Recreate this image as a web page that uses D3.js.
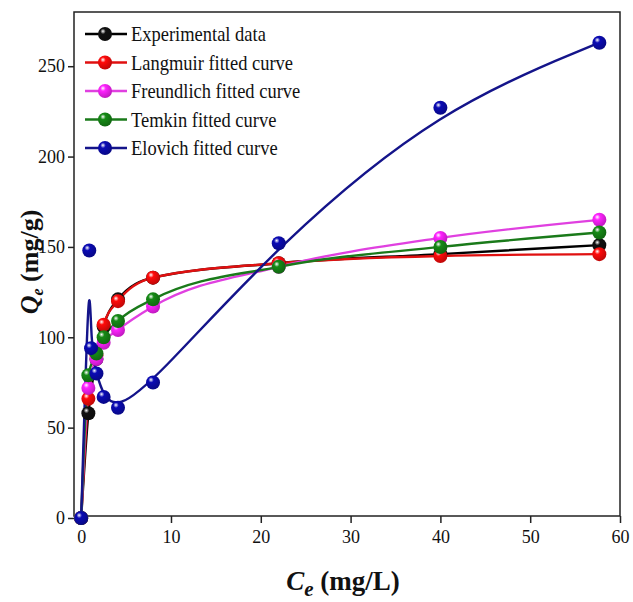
<!DOCTYPE html>
<html lang="en">
<head>
<meta charset="UTF-8">
<title>Isotherm fits</title>
<script src="https://d3js.org/d3.v7.min.js"></script>
<style>
  body { margin: 0; background: #fff; }
  text { font-family: "Liberation Serif", "DejaVu Serif", serif; }
</style>
</head>
<body>
<div id="chart"></div>
<script>
// data
const ceMain = [0, 0.8, 1.7, 2.5, 4.1, 8, 22, 40, 57.7];
const qExperimental = [0, 58, 88, 106, 121, 133, 141, 146, 151];
const qLangmuir = [0, 66, 90, 107, 120, 133, 141, 145, 146];
const qFreundlich = [0, 72, 88, 97, 104, 117, 139, 155, 165];
const qTemkin = [0, 79, 91, 100, 109, 121, 139, 150, 158];
const ceElovich = [0, 0.9, 1.1, 1.7, 2.5, 4.1, 8, 22, 40, 57.7];
const qElovich = [0, 148, 94, 80, 67, 61, 75, 152, 227, 263];
const xTicks = [0, 10, 20, 30, 40, 50, 60];
const yTicks = [0, 50, 100, 150, 200, 250];

const series = [
  { name: 'Experimental data', x: ceMain, y: qExperimental, line: '#000000', mark: '#111111', curve: d3.curveMonotoneX },
  { name: 'Langmuir fitted curve', x: ceMain, y: qLangmuir, line: '#e01010', mark: '#ff0a0a', curve: d3.curveMonotoneX },
  { name: 'Freundlich fitted curve', x: ceMain, y: qFreundlich, line: '#e040e0', mark: '#ff22ff', curve: d3.curveMonotoneX },
  { name: 'Temkin fitted curve', x: ceMain, y: qTemkin, line: '#1a7a1a', mark: '#168a16', curve: d3.curveMonotoneX },
  { name: 'Elovich fitted curve', x: ceElovich, y: qElovich, line: '#14148a', mark: '#0a0ab4', curve: d3.curveBasis }
];

const width = 633, height = 602;
const plotLeft = 74, plotRight = 620, plotTop = 12, plotBottom = 516;

const svg = d3.select('#chart').append('svg')
  .attr('width', width).attr('height', height);

const x = d3.scaleLinear().domain([-0.8, 60]).range([plotLeft, plotRight]);
const y = d3.scaleLinear().domain([0, 280]).range([518, plotTop]);

// sphere-looking markers
const defs = svg.append('defs');
series.forEach((s, i) => {
  const g = defs.append('radialGradient').attr('id', 'ball' + i)
    .attr('cx', '0.38').attr('cy', '0.35').attr('r', '0.65')
    .attr('fx', '0.35').attr('fy', '0.3');
  g.append('stop').attr('offset', '0').attr('stop-color', '#ffffff');
  g.append('stop').attr('offset', '0.3').attr('stop-color', s.mark);
  g.append('stop').attr('offset', '1').attr('stop-color', d3.color(s.mark).darker(0.8));
});

// axes
svg.append('g')
  .attr('transform', `translate(0,${plotBottom})`)
  .call(d3.axisBottom(x).tickValues(xTicks).tickSize(7).tickPadding(7))
  .call(g => g.select('.domain').remove())
  .selectAll('text').style('font-size', '18px').attr('fill', '#111');

svg.append('g')
  .attr('transform', `translate(${plotLeft},0)`)
  .call(d3.axisLeft(y).tickValues(yTicks).tickSize(6).tickPadding(3))
  .call(g => g.select('.domain').remove())
  .selectAll('text').style('font-size', '18px').attr('fill', '#111');

svg.selectAll('.tick line').attr('stroke', '#222').attr('stroke-width', 1.5);

svg.append('rect')
  .attr('x', plotLeft).attr('y', plotTop)
  .attr('width', plotRight - plotLeft).attr('height', plotBottom - plotTop)
  .attr('fill', 'none').attr('stroke', '#222').attr('stroke-width', 1.5);

// curves + points
const plot = svg.append('g');
series.forEach((s, i) => {
  const pts = s.x.map((v, k) => [v, s.y[k]]);
  plot.append('path')
    .datum(pts)
    .attr('fill', 'none')
    .attr('stroke', s.line)
    .attr('stroke-width', 2.4)
    .attr('d', d3.line().x(d => x(d[0])).y(d => y(d[1])).curve(s.curve));
});
series.forEach((s, i) => {
  const pts = s.x.map((v, k) => [v, s.y[k]]);
  plot.selectAll(null)
    .data(pts)
    .enter().append('circle')
    .attr('cx', d => x(d[0]))
    .attr('cy', d => y(d[1]))
    .attr('r', 7)
    .attr('fill', `url(#ball${i})`);
});

// legend
const legend = svg.append('g');
series.forEach((s, i) => {
  const ly = 34 + i * 28.5;
  legend.append('line')
    .attr('x1', 85).attr('x2', 127).attr('y1', ly).attr('y2', ly)
    .attr('stroke', s.line).attr('stroke-width', 2.4);
  legend.append('circle')
    .attr('cx', 105).attr('cy', ly).attr('r', 7)
    .attr('fill', `url(#ball${i})`);
  legend.append('text')
    .attr('transform', `translate(131,${ly + 7}) scale(0.88,1)`)
    .style('font-size', '21px').attr('fill', '#111')
    .text(s.name);
});

// axis titles
const yt = svg.append('text')
  .attr('transform', 'translate(38,262) rotate(-90)')
  .attr('text-anchor', 'middle')
  .style('font-size', '26px').style('font-weight', 'bold').attr('fill', '#111');
yt.append('tspan').style('font-style', 'italic').text('Q');
yt.append('tspan').style('font-style', 'italic').style('font-size', '16px').attr('dy', 5).text('e');
yt.append('tspan').attr('dy', -5).text(' (mg/g)');

const xt = svg.append('text')
  .attr('x', 343).attr('y', 590)
  .attr('text-anchor', 'middle')
  .style('font-size', '27px').style('font-weight', 'bold').attr('fill', '#111');
xt.append('tspan').style('font-style', 'italic').text('C');
xt.append('tspan').style('font-style', 'italic').style('font-size', '21px').attr('dy', 6).text('e');
xt.append('tspan').attr('dy', -6).text(' (mg/L)');
</script>
</body>
</html>
